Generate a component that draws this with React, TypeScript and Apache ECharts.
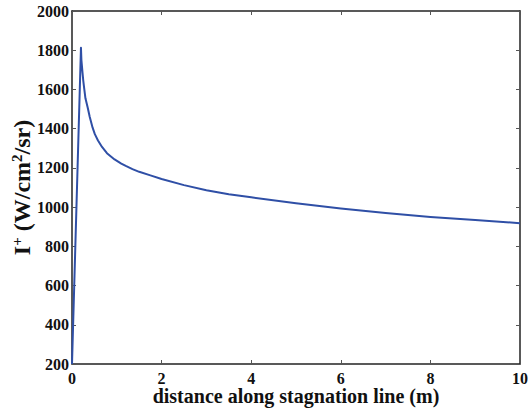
import React, { useEffect, useRef } from "react";
import * as echarts from "echarts";

const distance = [0, 0.2, 0.21, 0.235, 0.25, 0.275, 0.3, 0.35, 0.395, 0.46, 0.51, 0.58, 0.67, 0.78, 0.95, 1.1, 1.2, 1.35, 1.5, 1.75, 2.0, 2.5, 3.0, 3.5, 4.0, 5.0, 6.0, 7.0, 8.0, 9.0, 10.0];
const intensity = [200, 1812, 1750, 1685, 1648, 1600, 1555, 1508, 1461, 1405, 1372, 1340, 1307, 1275, 1243, 1222, 1210, 1194, 1180, 1162, 1143, 1112, 1086, 1066, 1050, 1020, 993, 970, 950, 934, 918];

const xTitle = "distance along stagnation line (m)";
const yTitle = "I{sup|+} (W/cm{sup|2}/sr)";

export default function App() {
  const ref = useRef<HTMLDivElement>(null);
  useEffect(() => {
    if (!ref.current) return;
    const chart = echarts.init(ref.current, null, { renderer: "svg" });
    const font = "Liberation Serif";
    const lineColor = "#222";
    const data = distance.map((d, i) => [d, intensity[i]]);
    const fmt = (v: number) => String(v);
    const baseX = {
      type: "value" as const,
      min: 0,
      max: 10,
      interval: 2,
      splitLine: { show: false },
      axisLine: { show: true, onZero: false, lineStyle: { color: lineColor, width: 1.5 } },
      axisTick: { show: true, inside: true, length: 4, lineStyle: { color: "#555" } },
    };
    const baseY = {
      type: "value" as const,
      min: 200,
      max: 2000,
      interval: 200,
      splitLine: { show: false },
      axisLine: { show: true, onZero: false, lineStyle: { color: lineColor, width: 1.5 } },
      axisTick: { show: true, inside: true, length: 4, lineStyle: { color: "#555" } },
    };
    chart.setOption({
      animation: false,
      backgroundColor: "#fff",
      grid: { left: 72, right: 8, top: 11, bottom: 44, containLabel: false, outerBoundsMode: "none" },
      xAxis: [
        {
          ...baseX,
          position: "bottom",
          name: xTitle,
          nameLocation: "middle",
          nameGap: 22,
          nameMoveOverlap: false,
          nameTextStyle: { fontFamily: font, fontWeight: "bold", fontSize: 20, lineHeight: 20, color: "#111" },
          axisLabel: { margin: 6, fontFamily: font, fontWeight: "bold", fontSize: 16, color: "#111", formatter: fmt },
        },
        {
          ...baseX,
          position: "top",
          axisLabel: { show: false },
        },
      ],
      yAxis: [
        {
          ...baseY,
          position: "left",
          name: yTitle,
          nameLocation: "middle",
          nameGap: 38,
          nameMoveOverlap: false,
          nameRotate: 90,
          nameTextStyle: {
            fontFamily: font,
            fontWeight: "bold",
            fontSize: 24,
            color: "#111",
            rich: {
              sup: { fontFamily: font, fontWeight: "bold", fontSize: 15, color: "#111", verticalAlign: "top", padding: [0, 0, 10, 0] },
            },
          },
          axisLabel: { margin: 3, fontFamily: font, fontWeight: "bold", fontSize: 16, color: "#111", formatter: fmt },
        },
        {
          ...baseY,
          position: "right",
          axisLabel: { show: false },
        },
      ],
      series: [
        {
          type: "line",
          data,
          showSymbol: false,
          smooth: false,
          lineStyle: { color: "#2f4fa6", width: 2, join: "round" },
          xAxisIndex: 0,
          yAxisIndex: 0,
        },
      ],
    });
    return () => chart.dispose();
  }, []);
  return <div ref={ref} style={{ width: 528, height: 408, position: "absolute", left: 0, top: 0 }} />;
}
